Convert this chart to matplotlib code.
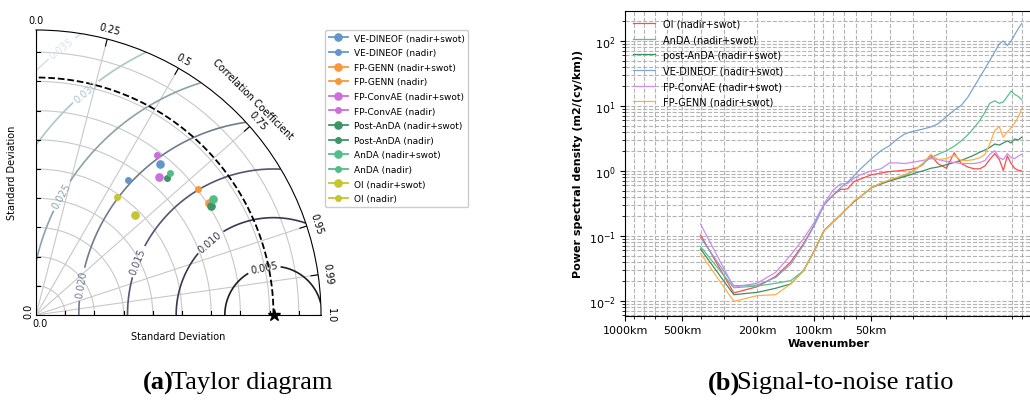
import numpy as np
import matplotlib
matplotlib.use("Agg")
import matplotlib.pyplot as plt
from matplotlib.ticker import NullFormatter

W, H = 1030, 402

# ---- Taylor diagram data ----
ref_std = 0.0244
taylor_names = ["VE-DINEOF (nadir+swot)", "VE-DINEOF (nadir)",
                "FP-GENN (nadir+swot)", "FP-GENN (nadir)",
                "FP-ConvAE (nadir+swot)", "FP-ConvAE (nadir)",
                "Post-AnDA (nadir+swot)", "Post-AnDA (nadir)",
                "AnDA (nadir+swot)", "AnDA (nadir)",
                "OI (nadir+swot)", "OI (nadir)"]
taylor_std = [0.0201, 0.0168, 0.0212, 0.0211, 0.0190, 0.0206,
              0.0212, 0.0195, 0.0217, 0.0200, 0.0144, 0.0147]
taylor_corr = [0.636, 0.563, 0.840, 0.791, 0.663, 0.605,
               0.848, 0.692, 0.837, 0.686, 0.703, 0.563]
taylor_colors = ["#6496c8", "#6496c8", "#f7993a", "#f7993a", "#cc6fdc", "#cc6fdc",
                 "#3f9466", "#3f9466", "#52bd88", "#52bd88", "#c5c531", "#c5c531"]
corr_ticks = [0.0, 0.25, 0.5, 0.75, 0.95, 0.99, 1.0]
std_grid = [0.003, 0.006, 0.009, 0.012, 0.015, 0.018, 0.021, 0.024, 0.027]
rms_levels = [0.005, 0.010, 0.015, 0.020, 0.025, 0.030, 0.035]

# ---- PSD data (x = wavelength in km) ----
wavelength = [400, 266.7, 200, 160, 133.3, 114.3, 100, 88.9, 80, 72.7, 66.7, 61.5,
              57.1, 50, 44.4, 40, 36.4, 33.3, 30.8, 28.6, 26.7, 24.2, 22.2, 20,
              18.2, 16.7, 15.4, 14.3, 13.3, 12.5, 11.8, 11.1, 10.5, 10, 9.52, 9.09,
              8.70, 8.33, 8.0]
psd_oi = [0.104, 0.0133, 0.0166, 0.024, 0.040, 0.075, 0.148, 0.30, 0.42,
          0.52, 0.53, 0.69, 0.75, 0.87, 0.93, 0.98, 1.0, 1.03, 1.06, 1.12, 1.25,
          1.75, 1.3, 1.1, 1.9, 1.3, 1.15, 1.08, 1.08, 1.2, 1.5, 1.85, 1.5, 1.02,
          1.7, 1.3, 1.1, 1.02, 1.0]
psd_anda = [0.0686, 0.016, 0.017, 0.0187, 0.0206, 0.029, 0.059, 0.121, 0.162,
            0.21, 0.27, 0.34, 0.40, 0.55, 0.65, 0.72, 0.78, 0.85, 0.95, 1.1, 1.3,
            1.6, 1.8, 2.05, 2.4, 2.9, 3.6, 4.6, 6.0, 8.0, 11, 12, 11, 11.5,
            14, 17, 15, 14, 12.5]
psd_postanda = [0.063, 0.0125, 0.0136, 0.0157, 0.0183, 0.029, 0.059, 0.121, 0.162,
                0.21, 0.27, 0.34, 0.40, 0.55, 0.63, 0.70, 0.76, 0.82, 0.88, 0.95, 1.0,
                1.1, 1.15, 1.25, 1.35, 1.45, 1.6, 1.75, 1.95, 2.1, 2.3, 2.6, 2.5, 2.7,
                2.9, 2.7, 3.1, 3.0, 3.3]
psd_vedineof = [0.095, 0.0172, 0.0176, 0.023, 0.037, 0.072, 0.145, 0.30, 0.42,
                0.55, 0.67, 0.85, 1.07, 1.53, 2.05, 2.45, 3.1, 3.7, 4.0, 4.2, 4.4,
                4.75, 5.3, 6.8, 8.6, 10.2, 13.7, 19.6, 27.9, 37.5, 50, 68, 90, 100,
                85, 100, 125, 155, 185]
psd_convae = [0.153, 0.0162, 0.0189, 0.0276, 0.051, 0.090, 0.162, 0.31, 0.50,
              0.63, 0.64, 0.78, 0.87, 1.0, 1.08, 1.33, 1.33, 1.3, 1.35, 1.4, 1.45,
              1.55, 1.5, 1.4, 1.35, 1.3, 1.3, 1.3, 1.35, 1.45, 1.8, 2.05, 1.6, 1.5,
              1.85, 1.6, 1.55, 1.7, 1.8]
psd_genn = [0.054, 0.0099, 0.0121, 0.0125, 0.0183, 0.029, 0.059, 0.121, 0.162,
            0.21, 0.27, 0.35, 0.40, 0.55, 0.65, 0.73, 0.80, 0.88, 0.97, 1.1, 1.3,
            1.8, 1.5, 1.55, 1.75, 1.45, 1.45, 1.5, 1.6, 1.8, 2.6, 4.2, 4.8, 3.3,
            4.0, 4.6, 5.5, 6.8, 9.0]
psd_names = ["OI (nadir+swot)", "AnDA (nadir+swot)", "post-AnDA (nadir+swot)",
             "VE-DINEOF (nadir+swot)", "FP-ConvAE (nadir+swot)", "FP-GENN (nadir+swot)"]
psd_colors = ["#ff4a4a", "#5cc08a", "#3d9062", "#7aa6d0", "#c98ef0", "#ffae4a"]
wave_ticks = [1000, 500, 200, 100, 50]
wave_labels = ["1000km", "500km", "200km", "100km", "50km"]


def fbox(x0, y0, x1, y1):
    # pixel box (top-left origin) -> figure fraction rect
    return [x0 / W, 1 - y1 / H, (x1 - x0) / W, (y1 - y0) / H]


def to_polar(x, y):
    return np.arctan2(y, x), np.hypot(x, y)


fig = plt.figure(figsize=(W / 100, H / 100), dpi=100)

# ================= Taylor diagram =================
smax = 1.2 * ref_std
ax = fig.add_axes(fbox(36, 31, 321, 316), projection="polar")
ax.set_thetamin(0)
ax.set_thetamax(90)
ax.set_rlim(0, smax)
tick_angles = np.arccos(corr_ticks)
ax.set_thetagrids(np.degrees(tick_angles), labels=[""] * len(corr_ticks))
ax.set_rgrids(std_grid, labels=[""] * len(std_grid))
ax.grid(True, color="#c8c8c8", lw=0.8)
ax.tick_params(length=0)
for side in ["polar", "start", "end"]:
    ax.spines[side].set_color("k")
    ax.spines[side].set_linewidth(0.8)
ax.spines["inner"].set_visible(False)

# RMS contours
rs, ts = np.meshgrid(np.linspace(0, smax, 300), np.linspace(0, np.pi / 2, 300))
rms = np.sqrt(ref_std ** 2 + rs ** 2 - 2 * ref_std * rs * np.cos(ts))
cs = ax.contour(ts, rs, rms, levels=rms_levels, cmap="bone", vmin=0, vmax=0.04,
                linewidths=1.2)
lab_pix = [(264, 269), (207, 239), (137, 262), (80, 285), (62, 197), (85, 92), (60, 47)]
scale = smax / 285.0
manual = [to_polar((px - 36) * scale, (316 - py) * scale) for px, py in lab_pix]
ax.clabel(cs, fmt="%.3f", fontsize=7, manual=manual, inline_spacing=3)

# reference std arc and star
tt = np.linspace(0, np.pi / 2, 200)
ax.plot(tt, np.full_like(tt, ref_std), "k--", lw=1.3)
ax.plot([0], [ref_std], "k*", ms=9, clip_on=False, zorder=6)

# arc ticks and axis ticks
for a in tick_angles:
    ax.plot([a, a], [smax * 0.975, smax], color="k", lw=0.8)
h = 0.013 * smax
for r in std_grid:
    t1, r1 = to_polar(h, r)
    ax.plot([np.pi / 2, t1], [r, r1], color="k", lw=0.8)
    t2, r2 = to_polar(r, h)
    ax.plot([0, t2], [r, r2], color="k", lw=0.8)

# samples
handles = []
for i, name in enumerate(taylor_names):
    ms = 5.2 if "swot" in name else 4.0
    ln, = ax.plot([np.arccos(taylor_corr[i])], [taylor_std[i]], "-o", color=taylor_colors[i],
                  ms=ms, lw=1.3, label=name, zorder=5)
    handles.append(ln)

# correlation tick labels
for a, c in zip(tick_angles, corr_ticks):
    ax.text(a, smax * 1.018, str(c), rotation=np.degrees(a) - 90, ha="center", va="bottom",
            rotation_mode="anchor", fontsize=7)
ax.text(np.pi / 4, smax * 1.075, "Correlation Coefficient", rotation=-45, ha="center",
        va="center", rotation_mode="anchor", fontsize=7)

fig.text(12 / W, 1 - 173 / H, "Standard Deviation", rotation=90, ha="center", va="center",
         fontsize=7)
fig.text(178 / W, 1 - 337 / H, "Standard Deviation", ha="center", va="center", fontsize=7)
fig.text(40 / W, 1 - 324 / H, "0.0", ha="center", va="center", fontsize=7)
fig.text(28 / W, 1 - 311 / H, "0.0", rotation=90, ha="center", va="center", fontsize=7)

fig.legend(handles=handles, loc="upper left", bbox_to_anchor=(325 / W, 1 - 31 / H),
           fontsize=6.5, handlelength=2.1, handletextpad=0.7, labelspacing=0.62,
           borderaxespad=0, framealpha=1, edgecolor="#cccccc")

# ================= PSD =================
ax2 = fig.add_axes(fbox(625.3, 11.7, 1032, 316.7))
series = [psd_oi, psd_anda, psd_postanda, psd_vedineof, psd_convae, psd_genn]
for vals, name, col in zip(series, psd_names, psd_colors):
    ax2.plot(wavelength, vals, color=col, lw=0.9, label=name)
ax2.set_xscale("log")
ax2.set_yscale("log")
ax2.set_xlim(1000, 7.05)
ax2.set_ylim(0.00594, 292)
ax2.set_xticks(wave_ticks)
ax2.set_xticklabels(wave_labels)
ax2.xaxis.set_minor_formatter(NullFormatter())
ax2.tick_params(labelsize=8)
ax2.grid(True, which="both", ls="--", color="#b4b4b4", lw=0.8)
ax2.set_xlabel("Wavenumber", fontweight="bold", fontsize=8, labelpad=2)
ax2.set_ylabel("Power spectral density (m2/(cy/km))", fontweight="bold", fontsize=8)
ax2.legend(loc="upper left", frameon=False, fontsize=7, handlelength=2.3,
           labelspacing=0.58, borderaxespad=0.4)

# captions
cap = dict(family="Liberation Serif", fontsize=19, va="center")
fig.text(143 / W, 1 - 383 / H, "(a)", fontweight="bold", ha="left", **cap)
fig.text(171 / W, 1 - 383 / H, "Taylor diagram", ha="left", **cap)
fig.text(708 / W, 1 - 383 / H, "(b)", fontweight="bold", ha="left", **cap)
fig.text(737 / W, 1 - 383 / H, "Signal-to-noise ratio", ha="left", **cap)

fig.savefig("out.png", dpi=100)
